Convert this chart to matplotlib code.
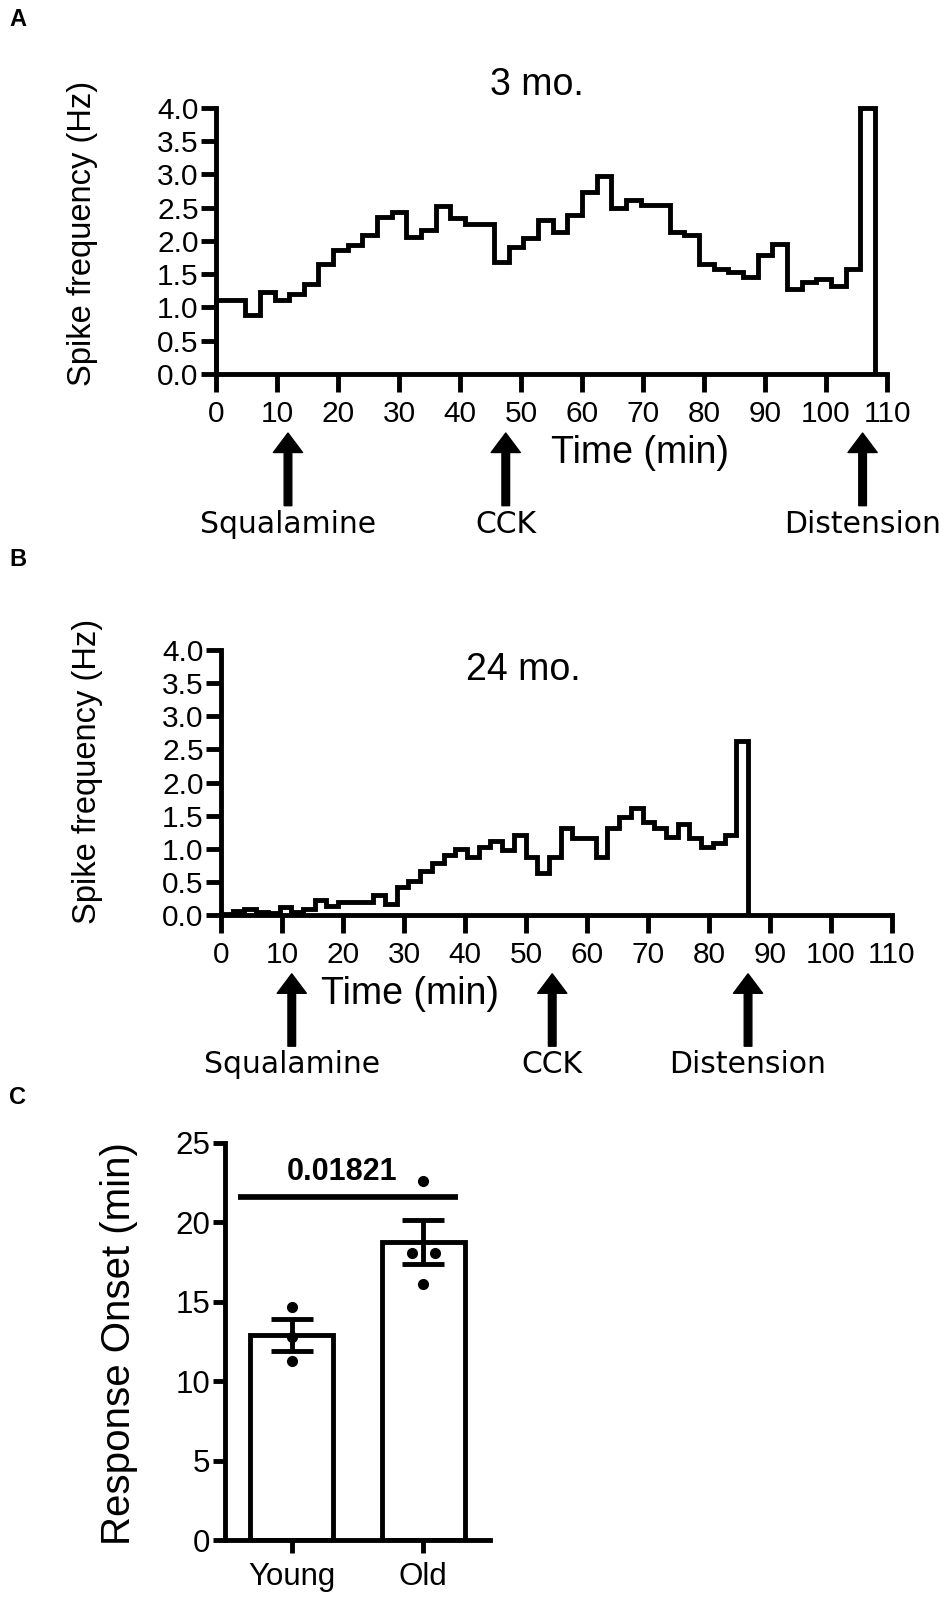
#!/usr/bin/env python3
"""Spike frequency traces (3 and 24 months) and response onset bar chart."""

import matplotlib

matplotlib.use("Agg")
import matplotlib.pyplot as plt
import numpy as np

# panel A: 3 mo., 45 bins
a_bin_minutes = 2.4
a_rate = [
    1.11, 1.11, 0.88, 1.23, 1.11, 1.20, 1.36, 1.66, 1.86, 1.94,
    2.09, 2.36, 2.44, 2.06, 2.16, 2.52, 2.34, 2.26, 2.26, 1.69,
    1.91, 2.04, 2.31, 2.14, 2.39, 2.74, 2.97, 2.49, 2.62, 2.54,
    2.54, 2.14, 2.09, 1.66, 1.58, 1.53, 1.46, 1.79, 1.96, 1.28,
    1.38, 1.43, 1.33, 1.58, 4.00,
]
a_events = [11.8, 47.5, 106.0]

# panel B: 24 mo., 45 bins
b_bin_minutes = 1.92
b_rate = [
    0.02, 0.06, 0.085, 0.05, 0.035, 0.115, 0.05, 0.085, 0.23, 0.13,
    0.19, 0.19, 0.20, 0.30, 0.17, 0.42, 0.52, 0.66, 0.79, 0.91,
    0.99, 0.88, 1.02, 1.11, 0.98, 1.21, 0.88, 0.63, 0.88, 1.32,
    1.16, 1.16, 0.88, 1.31, 1.48, 1.62, 1.41, 1.31, 1.18, 1.38,
    1.16, 1.03, 1.08, 1.21, 2.62,
]
b_events = [11.6, 54.3, 86.4]

event_names = ["Squalamine", "CCK", "Distension"]
time_ticks = list(range(0, 111, 10))
rate_ticks = [0.0, 0.5, 1.0, 1.5, 2.0, 2.5, 3.0, 3.5, 4.0]

# panel C
groups = ["Young", "Old"]
onset_mean = [12.9, 18.75]
onset_sem = [1.02, 1.40]
young_points = [14.7, 12.8, 11.3]
old_points = [22.6, 18.1, 18.1, 16.1]
old_jitter = [0.0, -0.085, 0.085, 0.0]
p_value = "0.01821"

W, H = 950, 1604
LW = 3.5
TICK_FONT = "Liberation Sans"
NOTE_FONT = "DejaVu Sans"


def px_box(left, top, right, bottom):
    return [left / W, 1 - bottom / H, (right - left) / W, (bottom - top) / H]


def trace_panel(fig, box, rate, bin_minutes, events, ylabel_y):
    ax = fig.add_axes(box)
    edges = np.arange(len(rate) + 1) * bin_minutes
    ax.stairs(rate, edges, baseline=0, color="black", linewidth=LW, clip_on=False, zorder=3)
    ax.set_xlim(0, 110)
    ax.set_ylim(0, 4.0)
    ax.set_xticks(time_ticks)
    ax.set_yticks(rate_ticks)
    ax.set_yticklabels([f"{v:.1f}" for v in rate_ticks])
    ax.spines[["top", "right"]].set_visible(False)
    ax.spines[["left", "bottom"]].set_linewidth(LW)
    ax.tick_params(axis="x", length=13, width=LW, pad=6, labelsize=21.5)
    ax.tick_params(axis="y", length=11, width=LW, pad=1.5, labelsize=21.5)
    for lab in ax.get_xticklabels() + ax.get_yticklabels():
        lab.set_family(TICK_FONT)
    ax.set_ylabel("Spike frequency (Hz)", fontsize=23.5, family=TICK_FONT)
    ax.yaxis.set_label_coords(-0.176, ylabel_y)

    trans = ax.get_xaxis_transform()
    for x, name in zip(events, event_names):
        ax.annotate(
            "",
            xy=(x, -0.222),
            xytext=(x, -0.495),
            xycoords=trans,
            textcoords=trans,
            arrowprops=dict(facecolor="black", edgecolor="black", width=5.5,
                            headwidth=21, headlength=14, shrink=0),
            annotation_clip=False,
        )
        ax.text(x, -0.565, name, transform=trans, ha="center", va="center",
                fontsize=21.5, family=NOTE_FONT, clip_on=False)
    return ax


def main():
    fig = plt.figure(figsize=(W / 100, H / 100), dpi=100)

    trace_panel(fig, px_box(216, 108, 887, 374), a_rate, a_bin_minutes, a_events, 0.53)
    trace_panel(fig, px_box(221, 650, 892, 915), b_rate, b_bin_minutes, b_events, 0.54)

    fig.text(537 / W, 1 - 85 / H, "3 mo.", ha="center", va="center", fontsize=27, family=TICK_FONT)
    fig.text(523 / W, 1 - 670 / H, "24 mo.", ha="center", va="center", fontsize=27, family=TICK_FONT)
    fig.text(640 / W, 1 - 453 / H, "Time (min)", ha="center", va="center", fontsize=27, family=TICK_FONT)
    fig.text(410 / W, 1 - 994 / H, "Time (min)", ha="center", va="center", fontsize=27, family=TICK_FONT)

    for letter, top in (("A", 20), ("B", 560), ("C", 1098)):
        fig.text(9 / W, 1 - top / H, letter, ha="left", va="center", fontsize=17,
                 fontweight="bold", family=TICK_FONT)

    # panel C
    ax = fig.add_axes(px_box(225, 1143, 490, 1540))
    xpos = np.arange(len(groups))
    ax.bar(xpos, onset_mean, width=0.63, facecolor="white", edgecolor="black",
           linewidth=LW, zorder=2)
    ax.errorbar(xpos, onset_mean, yerr=onset_sem, fmt="none", ecolor="black",
                elinewidth=LW, capsize=15, capthick=LW, zorder=3)
    ax.plot(np.zeros(len(young_points)), young_points, "o", color="black",
            markersize=7, zorder=4, clip_on=False)
    ax.plot(1 + np.array(old_jitter), old_points, "o", color="black",
            markersize=7, zorder=4, clip_on=False)
    ax.plot([-0.41, 1.265], [21.63, 21.63], color="black", linewidth=LW + 0.6,
            solid_capstyle="butt", clip_on=False)
    ax.text(0.38, 23.2, p_value, ha="center", va="center", fontsize=22,
            fontweight="bold", family=TICK_FONT)
    ax.set_xlim(-0.506, 1.506)
    ax.set_ylim(0, 25)
    ax.set_xticks(xpos)
    ax.set_xticklabels(groups)
    ax.set_yticks([0, 5, 10, 15, 20, 25])
    ax.spines[["top", "right"]].set_visible(False)
    ax.spines[["left", "bottom"]].set_linewidth(LW)
    ax.tick_params(axis="x", length=9.5, width=LW, pad=6, labelsize=22.5)
    ax.tick_params(axis="y", length=8.5, width=LW, pad=2, labelsize=22.5)
    for lab in ax.get_xticklabels() + ax.get_yticklabels():
        lab.set_family(TICK_FONT)
    ax.set_ylabel("Response Onset (min)", fontsize=29, family=TICK_FONT)
    ax.yaxis.set_label_coords(-0.33, 0.494)

    fig.savefig("out.png", dpi=100, facecolor="white")
    plt.close(fig)


if __name__ == "__main__":
    main()
